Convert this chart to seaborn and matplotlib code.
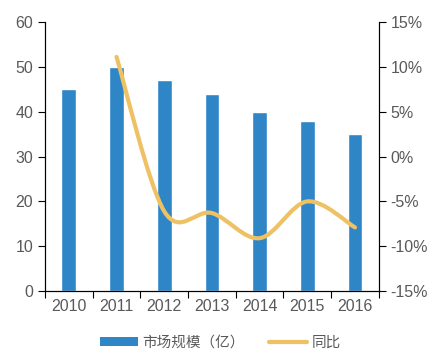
import numpy as np
import pandas as pd
import matplotlib
matplotlib.use("Agg")
import matplotlib.pyplot as plt
from matplotlib.path import Path
from matplotlib.patches import PathPatch, Patch
from matplotlib.lines import Line2D
from matplotlib.ticker import FixedLocator, PercentFormatter
import seaborn as sns

# data
years = ['2010', '2011', '2012', '2013', '2014', '2015', '2016']
market_size = [45, 50, 47, 44, 40, 38, 35]          # 市场规模（亿）
yoy = [11.1, -6.1, -6.3, -9.1, -5.0, -7.9]           # 同比 (%), 2011-2016

bar_color = '#2f86c6'
line_color = '#efc165'
text_color = '#595959'

sns.set_style('white')
plt.rcParams['font.family'] = ['Liberation Sans', 'Noto Sans CJK SC', 'DejaVu Sans']
plt.rcParams['axes.unicode_minus'] = False

df = pd.DataFrame({'year': years, 'size': market_size})

fig = plt.figure(figsize=(4.41, 3.59), dpi=100)
ax = fig.add_axes([0.102, 0.189, 0.757, 0.750])
sns.barplot(data=df, x='year', y='size', color=bar_color, width=0.31,
            saturation=1, ax=ax)
ax.set_xlim(-0.5, 6.5)
ax.set_ylim(0, 60)
ax.set_yticks(range(0, 61, 10))
ax.set_xlabel('')
ax.set_ylabel('')

# x ticks sit between categories
ax.xaxis.set_minor_locator(FixedLocator(np.arange(-0.5, 7, 1)))
ax.tick_params(axis='x', which='major', length=0, labelsize=11.5,
               colors=text_color, pad=6)
ax.tick_params(axis='x', which='minor', length=5, width=0.8, color='black',
               bottom=True, direction='out')
ax.tick_params(axis='y', length=5, width=0.8, color='black', labelsize=11.5,
               labelcolor=text_color, left=True, direction='out')

ax2 = ax.twinx()
ax2.set_ylim(-15, 15)
ax2.set_yticks(range(-15, 16, 5))
ax2.yaxis.set_major_formatter(PercentFormatter(decimals=0))
ax2.tick_params(axis='y', length=5, width=0.8, color='black', labelsize=11.5,
                labelcolor=text_color, right=True, direction='out')

for a in (ax, ax2):
    a.spines['top'].set_visible(False)
    for s in ('left', 'right', 'bottom'):
        a.spines[s].set_color('black')
        a.spines[s].set_linewidth(0.8)
    a.grid(False)

# smoothed line (Catmull-Rom as cubic Bezier segments)
xs = np.arange(1, 7, dtype=float)
ys = np.array(yoy, dtype=float)
verts = [(xs[0], ys[0])]
codes = [Path.MOVETO]
n = len(xs)
for i in range(n - 1):
    p0 = np.array([xs[max(i - 1, 0)], ys[max(i - 1, 0)]])
    p1 = np.array([xs[i], ys[i]])
    p2 = np.array([xs[i + 1], ys[i + 1]])
    p3 = np.array([xs[min(i + 2, n - 1)], ys[min(i + 2, n - 1)]])
    c1 = p1 + (p2 - p0) / 6
    c2 = p2 - (p3 - p1) / 6
    verts += [tuple(c1), tuple(c2), tuple(p2)]
    codes += [Path.CURVE4] * 3
ax2.add_patch(PathPatch(Path(verts, codes), facecolor='none',
                        edgecolor=line_color, lw=3, capstyle='round'))

handles = [Patch(facecolor=bar_color, edgecolor='none'),
           Line2D([0], [0], color=line_color, lw=3)]
fig.legend(handles, ['市场规模（亿）', '同比'], loc='lower center',
           bbox_to_anchor=(0.5, -0.01), ncol=2, frameon=False,
           prop={'family': ['Noto Sans CJK SC'], 'size': 10.5},
           labelcolor=text_color, handlelength=2.6, handleheight=0.55,
           columnspacing=1.7, handletextpad=0.3)

fig.savefig('out.png', dpi=100)
